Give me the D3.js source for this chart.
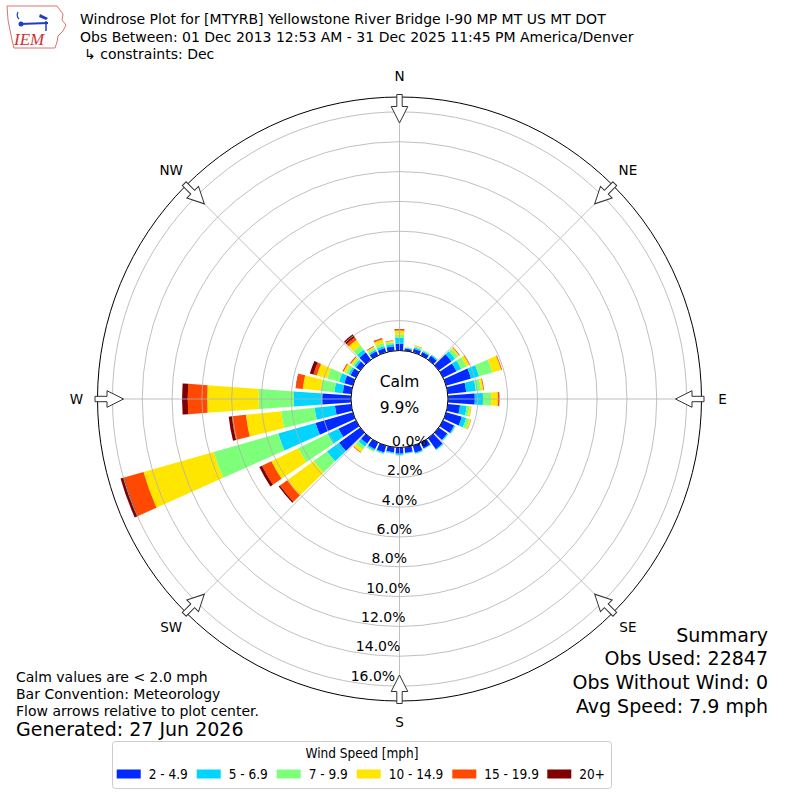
<!DOCTYPE html>
<html>
<head>
<meta charset="utf-8">
<script src="https://cdn.jsdelivr.net/npm/d3@7"></script>
<style>
  body { margin: 0; background: #fff; }
  svg { display: block; font-family: "DejaVu Sans", sans-serif; }
</style>
</head>
<body>
<svg width="800" height="800"></svg>
<script>
// wind direction bins (degrees, meteorological, 10 deg sectors)
const directions = [0, 10, 20, 30, 40, 50, 60, 70, 80, 90, 100, 110, 120, 130, 140, 150, 160, 170,
                    180, 190, 200, 210, 220, 230, 240, 250, 260, 270, 280, 290, 300, 310, 320, 330, 340, 350];

const speedBins = ["2 - 4.9", "5 - 6.9", "7 - 9.9", "10 - 14.9", "15 - 19.9", "20+"];
const binColors = ["#002aff", "#00d4ff", "#7dff7a", "#ffe600", "#ff4800", "#800000"];

// frequency (%) of each speed class per direction
const speed2 = [0.45, 0.15, 0.25, 0.25, 0.33, 1.05, 1.00, 1.74, 1.25, 1.80, 0.83, 1.10, 0.82, 0.70, 0.90, 0.43, 0.50, 0.38,
                0.42, 0.35, 0.48, 0.50, 0.45, 1.75, 1.30, 2.60, 1.10, 1.93, 0.57, 0.60, 0.40, 0.35, 0.60, 0.30, 0.30, 0.30];
const speed5 = [0.40, 0.05, 0.10, 0.08, 0.08, 0.30, 0.35, 0.56, 0.65, 0.55, 0.45, 0.30, 0.08, 0.07, 0.07, 0.05, 0.07, 0.05,
                0.08, 0.06, 0.07, 0.10, 0.25, 1.00, 0.80, 2.60, 1.37, 1.91, 0.57, 0.36, 0.15, 0.15, 0.25, 0.12, 0.15, 0.15];
const speed7 = [0.22, 0.04, 0.08, 0.05, 0.03, 0.25, 0.40, 0.94, 0.35, 0.55, 0.19, 0.23, 0.04, 0.03, 0.03, 0.02, 0.03, 0.02,
                0.05, 0.04, 0.05, 0.07, 0.25, 1.10, 2.20, 4.50, 2.25, 2.35, 0.91, 0.83, 0.20, 0.15, 0.35, 0.13, 0.20, 0.13];
const speed10 = [0.27, 0.03, 0.05, 0.02, 0.01, 0.10, 0.20, 0.60, 0.15, 0.45, 0.12, 0.10, 0.01, 0, 0, 0, 0, 0,
                 0, 0, 0, 0.03, 0.20, 2.20, 2.00, 4.90, 2.38, 3.46, 1.22, 0.72, 0.17, 0.12, 0.45, 0.10, 0.25, 0.10];
const speed15 = [0.09, 0, 0.02, 0, 0, 0.05, 0.05, 0.06, 0.05, 0.08, 0.01, 0.02, 0, 0, 0, 0, 0, 0,
                 0, 0, 0, 0, 0.05, 0.60, 0.70, 1.35, 0.95, 1.30, 0.45, 0.24, 0.08, 0.08, 0.20, 0.05, 0.08, 0.02];
const speed20 = [0.02, 0, 0, 0, 0, 0, 0, 0, 0, 0.02, 0, 0, 0, 0, 0, 0, 0, 0,
                 0, 0, 0, 0, 0, 0.10, 0.20, 0.25, 0.21, 0.38, 0.03, 0.25, 0, 0, 0.25, 0, 0.02, 0];

const radialTicks = [0, 2, 4, 6, 8, 10, 12, 14, 16];
const compass = ["N", "NE", "E", "SE", "S", "SW", "W", "NW"];
const compassAngles = [0, 45, 90, 135, 180, 225, 270, 315];

const titleLines = ["Windrose Plot for [MTYRB] Yellowstone River Bridge I-90 MP MT US MT DOT",
                    "Obs Between: 01 Dec 2013 12:53 AM - 31 Dec 2025 11:45 PM America/Denver",
                    "\u21b3 constraints: Dec"];
const calmText = ["Calm", "9.9%"];
const summaryLines = ["Summary", "Obs Used: 22847", "Obs Without Wind: 0", "Avg Speed: 7.9 mph"];
const noteLines = ["Calm values are < 2.0 mph", "Bar Convention: Meteorology", "Flow arrows relative to plot center."];
const generated = "Generated: 27 Jun 2026";

const svg = d3.select("svg");
const cx = 399.5, cy = 399;

// build table for the stack generator
const keys = ["s2", "s5", "s7", "s10", "s15", "s20"];
const seriesArr = [speed2, speed5, speed7, speed10, speed15, speed20];
const table = directions.map((d, i) => {
    let row = { dir: d };
    keys.forEach((k, j) => row[k] = seriesArr[j][i]);
    return row;
});
const stacked = d3.stack().keys(keys)(table);

const rScale = d3.scaleLinear().domain([0, 17]).range([48.5, 302]);
const color = d3.scaleOrdinal().domain(keys).range(binColors);
const rad = d => d * Math.PI / 180;
const halfWidth = 4.1;

const plot = svg.append("g").attr("transform", "translate(" + cx + "," + cy + ")");

const arc = d3.arc();

// bars
plot.append("g")
    .selectAll("g")
    .data(stacked)
    .enter().append("g")
        .attr("fill", d => color(d.key))
        .selectAll("path")
        .data(d => d.filter(v => v[1] - v[0] > 0))
        .enter().append("path")
            .attr("d", d => arc({
                innerRadius: rScale(d[0]),
                outerRadius: rScale(d[1]),
                startAngle: rad(d.data.dir - halfWidth),
                endAngle: rad(d.data.dir + halfWidth)
            }));

// grid rings and spokes (drawn over the bars)
const grid = plot.append("g").attr("fill", "none").attr("stroke", "#b0b0b0").attr("stroke-width", 0.8);
grid.selectAll("circle")
    .data(radialTicks)
    .enter().append("circle")
    .attr("r", d => rScale(d));
grid.selectAll("line")
    .data(compassAngles)
    .enter().append("line")
    .attr("x1", 0).attr("y1", 0)
    .attr("x2", d => rScale(17) * Math.sin(rad(d)))
    .attr("y2", d => -rScale(17) * Math.cos(rad(d)));

// outer frame
plot.append("circle")
    .attr("r", rScale(17))
    .attr("fill", "none")
    .attr("stroke", "#000")
    .attr("stroke-width", 1);

// calm circle
plot.append("circle")
    .attr("r", rScale(0))
    .attr("fill", "#fff")
    .attr("stroke", "#000")
    .attr("stroke-width", 1);

plot.selectAll(".calm")
    .data(calmText)
    .enter().append("text")
    .attr("class", "calm")
    .attr("x", 0)
    .attr("y", (d, i) => -12.5 + i * 26)
    .attr("text-anchor", "middle")
    .attr("font-size", 15.5)
    .text(d => d);

// radial labels, placed along 190 degrees
const labAng = rad(190);
plot.selectAll(".rlab")
    .data(radialTicks)
    .enter().append("text")
    .attr("class", "rlab")
    .attr("x", d => rScale(d) * Math.sin(labAng) + 1)
    .attr("y", d => -rScale(d) * Math.cos(labAng) - 1)
    .attr("font-size", 14)
    .attr("text-anchor", "start")
    .text(d => d3.format(".1f")(d) + "%");

// flow arrows pointing to the centre
const arrowPts = [[-2.7, -304.5], [2.7, -304.5], [2.7, -292.5], [8.3, -292.5], [0, -276],
                  [-8.3, -292.5], [-2.7, -292.5]];
plot.selectAll(".arrow")
    .data(compassAngles)
    .enter().append("polygon")
    .attr("class", "arrow")
    .attr("points", arrowPts.map(p => p.join(",")).join(" "))
    .attr("transform", d => "rotate(" + d + ")")
    .attr("fill", "#fff")
    .attr("stroke", "#333")
    .attr("stroke-width", 1);

// compass labels
plot.selectAll(".clab")
    .data(compass)
    .enter().append("text")
    .attr("class", "clab")
    .attr("x", (d, i) => 323 * Math.sin(rad(compassAngles[i])))
    .attr("y", (d, i) => -323 * Math.cos(rad(compassAngles[i])))
    .attr("dy", "0.35em")
    .attr("text-anchor", "middle")
    .attr("font-size", 13.5)
    .text(d => d);

// titles
svg.selectAll(".title")
    .data(titleLines)
    .enter().append("text")
    .attr("class", "title")
    .attr("x", (d, i) => i == 2 ? 84 : 80)
    .attr("y", (d, i) => 24 + i * 17.5)
    .attr("font-size", 14)
    .text(d => d);

// logo (simplified IEM mark)
const logo = svg.append("g");
logo.append("path")
    .attr("d", "M7,6 L57,6 L60,10 L63,14 L62,20 L66,25 L63,31 L58,36 L57,42 L55,48 L14,48 L12,40 L10,30 L8,20 Z")
    .attr("fill", "#fff")
    .attr("stroke", "#e07070")
    .attr("stroke-width", 1);
logo.append("line").attr("x1", 20).attr("y1", 24).attr("x2", 48).attr("y2", 23)
    .attr("stroke", "#1f3fbf").attr("stroke-width", 2);
logo.append("circle").attr("cx", 21).attr("cy", 24).attr("r", 2.5).attr("fill", "#1f3fbf");
logo.append("path").attr("d", "M40,14 L48,18 L46,20 L39,17 Z").attr("fill", "#1f3fbf");
logo.append("line").attr("x1", 46).attr("y1", 21).attr("x2", 46).attr("y2", 31)
    .attr("stroke", "#1f3fbf").attr("stroke-width", 1.5);
logo.append("path").attr("d", "M18,12 Q16,16 19,19").attr("fill", "none")
    .attr("stroke", "#1f3fbf").attr("stroke-width", 1.2);
logo.append("text").attr("x", 14).attr("y", 45)
    .attr("font-family", "Liberation Serif, serif").attr("font-style", "italic")
    .attr("font-size", 17).attr("fill", "#d03030").text("IEM");

// summary block
svg.selectAll(".summary")
    .data(summaryLines)
    .enter().append("text")
    .attr("class", "summary")
    .attr("x", 768)
    .attr("y", (d, i) => 641.5 + i * 23.7)
    .attr("text-anchor", "end")
    .attr("font-size", 19)
    .text(d => d);

// notes
svg.selectAll(".note")
    .data(noteLines)
    .enter().append("text")
    .attr("class", "note")
    .attr("x", 16)
    .attr("y", (d, i) => 682 + i * 17)
    .attr("font-size", 14)
    .text(d => d);

svg.append("text")
    .attr("x", 16).attr("y", 736)
    .attr("font-size", 19)
    .text(generated);

// legend
const legend = svg.append("g").attr("font-family", "DejaVu Sans Condensed, DejaVu Sans, sans-serif");
legend.append("rect")
    .attr("x", 112.5).attr("y", 741.5)
    .attr("width", 499).attr("height", 47)
    .attr("rx", 3)
    .attr("fill", "#fff")
    .attr("stroke", "#cccccc");
legend.append("text")
    .attr("x", 362).attr("y", 757.5)
    .attr("text-anchor", "middle")
    .attr("font-size", 13.5)
    .text("Wind Speed [mph]");

const legendX = [116.7, 196.7, 276.7, 356.7, 452.3, 547.3];
const items = legend.selectAll(".item")
    .data(speedBins)
    .enter().append("g")
    .attr("class", "item")
    .attr("transform", (d, i) => "translate(" + legendX[i] + ",0)");
items.append("rect")
    .attr("x", 0).attr("y", 769.5)
    .attr("width", 24).attr("height", 9)
    .attr("fill", (d, i) => binColors[i]);
items.append("text")
    .attr("x", 32).attr("y", 779)
    .attr("font-size", 13.5)
    .text(d => d);
</script>
</body>
</html>
